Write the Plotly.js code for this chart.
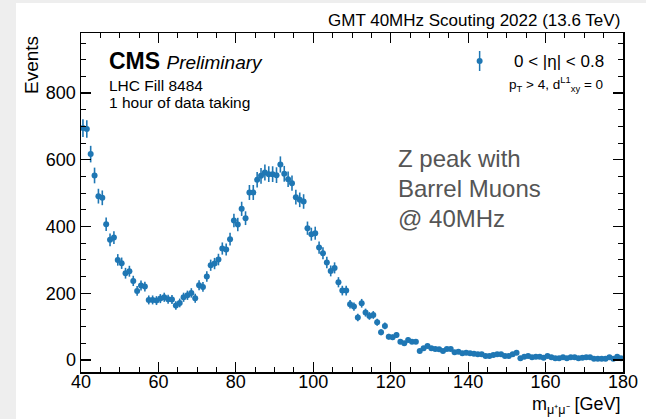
<!DOCTYPE html>
<html>
<head>
<meta charset="utf-8">
<script src="https://cdn.plot.ly/plotly-3.0.1.min.js"></script>
<style>
html,body{margin:0;padding:0;background:#eeeeee;width:646px;height:419px;overflow:hidden;}
#plot{position:absolute;left:16px;top:3px;width:630px;height:416px;background:#fff;}
</style>
</head>
<body>
<div id="plot"></div>
<script>
// Bin centres (GeV), 1 GeV bins from 40 to 180
const binCenters = [];
for (let m = 40.5; m < 180; m += 1) binCenters.push(m);

// Events per bin
const events = [
  695, 692, 617, 553, 491, 486, 407, 360, 367, 300,
  290, 260, 266, 237, 207, 223, 220, 180, 180, 178,
  184, 188, 182, 181, 163, 171, 188, 194, 201, 185,
  224, 219, 250, 284, 289, 301, 334, 331, 362, 418,
  406, 453, 425, 502, 502, 540, 552, 562, 557, 557,
  554, 586, 558, 542, 530, 488, 480, 475, 395, 377,
  380, 337, 320, 292, 267, 276, 233, 208, 208, 167,
  160, 127, 170, 142, 132, 135, 113, 83, 102, 70,
  68, 75, 55, 50, 60, 55, 55, 27, 35, 42,
  35, 33, 32, 27, 33, 33, 23, 25, 20, 22,
  20, 19, 17, 17, 12, 12, 15, 17, 17, 12,
  12, 17, 22, 5, 10, 12, 8, 10, 10, 7,
  12, 8, 5, 5, 8, 5, 8, 8, 5, 7,
  8, 8, 4, 4, 4, 4, 8, 4, 10, 5
];

const xTickVals = [40, 60, 80, 100, 120, 140, 160, 180];
const yTickVals = [0, 200, 400, 600, 800];

const blue = '#1f77b4';
const FONT = 'Liberation Sans, Arial, Helvetica, sans-serif';

const trace = {
  type: 'scatter',
  mode: 'markers',
  x: binCenters,
  y: events,
  marker: {color: blue, size: 6},
  error_y: {type: 'sqrt', color: blue, thickness: 1.6, width: 0},
  error_x: {type: 'constant', value: 0.5, color: blue, thickness: 1.6, width: 0},
  showlegend: false,
  hoverinfo: 'skip'
};

// plot area pixel mapping (inside the 630x416 div)
const L = 65, R = 607.5, T = 30, B = 369;
const px = p => (p - 16 - L) / (R - L);
const py = p => (B - (p - 3)) / (B - T);

const layout = {
  width: 630, height: 416,
  margin: {l: L, r: 630 - R, t: T, b: 416 - B, pad: 0},
  paper_bgcolor: '#ffffff',
  plot_bgcolor: '#ffffff',
  font: {family: FONT, color: '#000', size: 18},
  xaxis: {
    range: [40, 180],
    tickvals: xTickVals,
    ticks: 'inside', ticklen: 10, tickwidth: 1.2, tickcolor: '#000',
    minor: {dtick: 5, ticks: 'inside', ticklen: 5, tickwidth: 1, tickcolor: '#000'},
    showline: true, linecolor: '#000', linewidth: 1.5, mirror: 'allticks',
    showgrid: false, zeroline: false,
    ticklabelstandoff: -7,
    tickfont: {size: 18, family: FONT}
  },
  yaxis: {
    range: [-36, 980],
    tickvals: yTickVals,
    ticks: 'inside', ticklen: 10, tickwidth: 1.2, tickcolor: '#000',
    minor: {dtick: 50, ticks: 'inside', ticklen: 5, tickwidth: 1, tickcolor: '#000'},
    showline: true, linecolor: '#000', linewidth: 1.5, mirror: 'allticks',
    showgrid: false, zeroline: false,
    tickfont: {size: 18, family: FONT}
  },
  shapes: [
    {type: 'line', xref: 'paper', yref: 'paper', x0: px(480), x1: px(480), y0: py(51), y1: py(71),
     line: {color: blue, width: 1.5}},
    {type: 'circle', xref: 'paper', yref: 'paper', x0: px(477), x1: px(483), y0: py(58), y1: py(64),
     fillcolor: blue, line: {color: blue, width: 0}}
  ],
  annotations: [
    {text: 'GMT 40MHz Scouting 2022 (13.6 TeV)', xref: 'paper', yref: 'paper',
     x: px(622), y: py(20), xanchor: 'right', yanchor: 'middle', showarrow: false,
     font: {size: 17, family: FONT}},
    {text: 'Events', xref: 'paper', yref: 'paper', textangle: -90,
     x: px(31), y: py(34), xanchor: 'center', yanchor: 'top', showarrow: false,
     font: {size: 19, family: FONT}},
    {text: 'm<sub>μ⁺μ⁻</sub> [GeV]', xref: 'paper', yref: 'paper',
     x: px(623), y: py(405), xanchor: 'right', yanchor: 'middle', showarrow: false,
     font: {size: 18, family: FONT}},
    {text: '<b>CMS</b> <i><span style="font-size:19px">Preliminary</span></i>', xref: 'paper', yref: 'paper',
     x: px(107), y: py(61), xanchor: 'left', yanchor: 'middle', showarrow: false,
     font: {size: 23, family: FONT}},
    {text: 'LHC Fill 8484', xref: 'paper', yref: 'paper',
     x: px(107), y: py(85), xanchor: 'left', yanchor: 'middle', showarrow: false,
     font: {size: 15.5, family: FONT}},
    {text: '1 hour of data taking', xref: 'paper', yref: 'paper',
     x: px(107), y: py(102), xanchor: 'left', yanchor: 'middle', showarrow: false,
     font: {size: 15.5, family: FONT}},
    {text: '0 < |η| < 0.8', xref: 'paper', yref: 'paper',
     x: px(606), y: py(61), xanchor: 'right', yanchor: 'middle', showarrow: false,
     font: {size: 17, family: FONT}},
    {text: 'p<sub>T</sub> > 4, d<sup>L1</sup><sub>xy</sub> = 0', xref: 'paper', yref: 'paper',
     x: px(605), y: py(84), xanchor: 'right', yanchor: 'middle', showarrow: false,
     font: {size: 13.5, family: FONT}},
    {text: 'Z peak with', xref: 'paper', yref: 'paper',
     x: px(396), y: py(158), xanchor: 'left', yanchor: 'middle', showarrow: false,
     font: {size: 24, family: FONT, color: '#555555'}},
    {text: 'Barrel Muons', xref: 'paper', yref: 'paper',
     x: px(396), y: py(188), xanchor: 'left', yanchor: 'middle', showarrow: false,
     font: {size: 24, family: FONT, color: '#555555'}},
    {text: '@ 40MHz', xref: 'paper', yref: 'paper',
     x: px(396), y: py(218), xanchor: 'left', yanchor: 'middle', showarrow: false,
     font: {size: 24, family: FONT, color: '#555555'}}
  ]
};

Plotly.newPlot('plot', [trace], layout, {displayModeBar: false, staticPlot: true});
</script>
</body>
</html>
